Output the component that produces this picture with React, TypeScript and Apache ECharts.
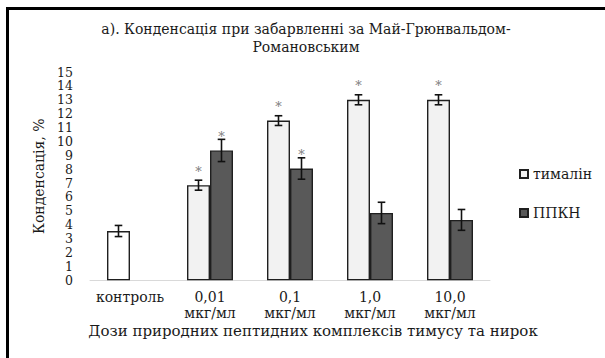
import React, { useEffect, useRef } from "react";
import * as echarts from "echarts";

// ---- data ----
const categories = ["контроль", "0,01\nмкг/мл", "0,1\nмкг/мл", "1,0\nмкг/мл", "10,0\nмкг/мл"];
const seriesNames = ["тималін", "ППКН"];
const timalinValues = [3.55, 6.85, 11.5, 13.0, 13.0];
const timalinErrors = [0.4, 0.36, 0.35, 0.36, 0.36];
const timalinSignificant = [false, true, true, true, true];
const ppknValues: (number | null)[] = [null, 9.35, 8.05, 4.85, 4.35];
const ppknErrors: (number | null)[] = [null, 0.8, 0.77, 0.77, 0.75];
const ppknSignificant = [false, true, true, false, false];
const yTicks = { min: 0, max: 15, interval: 1 };
const titleText = "а). Конденсація при забарвленні за Май-Грюнвальдом-\nРомановським";
const yAxisName = "Конденсація, %";
const xAxisName = "Дози природних пептидних комплексів тимусу та нирок";

const W = 605;
const H = 358;
const FONT = "DejaVu Serif";
const BAR_W = 23;
const INK = "#1a1a1a";

function errData(values: (number | null)[], errors: (number | null)[], sig: boolean[]) {
  const out: any[] = [];
  values.forEach((v, i) => {
    if (v == null) return;
    out.push([i, v, errors[i] ?? 0, sig[i] ? 1 : 0]);
  });
  return out;
}

function makeErrRender(offset: number, starGap: number) {
  return (params: any, api: any) => {
    const idx = api.value(0);
    const v = api.value(1);
    const e = api.value(2);
    const sig = api.value(3);
    const top = api.coord([idx, v + e]);
    const bot = api.coord([idx, v - e]);
    const x = top[0] + offset;
    const cap = 3.8;
    const st = { stroke: "#111", lineWidth: 1.6 };
    const children: any[] = [
      { type: "line", shape: { x1: x, y1: top[1], x2: x, y2: bot[1] }, style: st },
      { type: "line", shape: { x1: x - cap, y1: top[1], x2: x + cap, y2: top[1] }, style: st },
      { type: "line", shape: { x1: x - cap, y1: bot[1], x2: x + cap, y2: bot[1] }, style: st },
    ];
    if (sig) {
      children.push({
        type: "text",
        style: {
          text: "*",
          x,
          y: top[1] - starGap,
          textAlign: "center",
          textVerticalAlign: "middle",
          fontSize: 13,
          fontFamily: FONT,
          fill: "#808080",
        },
      });
    }
    return { type: "group", children };
  };
}

export default function App() {
  const ref = useRef<HTMLDivElement>(null);
  useEffect(() => {
    if (!ref.current) return;
    const chart = echarts.init(ref.current, null, { renderer: "svg" });
    const option: any = {
      animation: false,
      backgroundColor: "#ffffff",
      textStyle: { fontFamily: FONT, color: INK },
      grid: { left: 90, right: W - 490, top: 72, bottom: H - 280.3 },
      legend: {
        data: seriesNames,
        orient: "vertical",
        left: 519,
        top: 166,
        padding: 0,
        icon: "rect",
        itemWidth: 8,
        itemHeight: 8,
        itemGap: 23,
        textStyle: { fontFamily: FONT, fontSize: 14, color: INK, lineHeight: 16 },
      },
      xAxis: {
        type: "category",
        data: categories,
        axisTick: { show: false },
        axisLine: { lineStyle: { color: "#d9d9d9", width: 1 } },
        axisLabel: {
          interval: 0,
          margin: 9,
          fontSize: 14,
          lineHeight: 16,
          color: INK,
          fontFamily: FONT,
        },
      },
      yAxis: {
        type: "value",
        min: yTicks.min,
        max: yTicks.max,
        interval: yTicks.interval,
        name: yAxisName,
        nameLocation: "middle",
        nameGap: 42,
        nameTextStyle: { fontSize: 14, fontFamily: FONT, color: INK },
        axisLine: { show: false },
        axisTick: { show: false },
        splitLine: { show: false },
        axisLabel: { margin: 17, fontSize: 12.5, color: INK, fontFamily: FONT },
      },
      graphic: [
        {
          type: "line",
          shape: { x1: 6, y1: 8.5, x2: W, y2: 8.5 },
          style: { stroke: "#000", lineWidth: 3 },
        },
        {
          type: "line",
          shape: { x1: 7.5, y1: 7, x2: 7.5, y2: H },
          style: { stroke: "#000", lineWidth: 3 },
        },
        {
          type: "text",
          style: {
            text: titleText,
            x: 306,
            y: 20,
            textAlign: "center",
            textVerticalAlign: "top",
            fontSize: 14,
            lineHeight: 18,
            fontFamily: FONT,
            fill: INK,
          },
        },
        {
          type: "text",
          style: {
            text: xAxisName,
            x: 313,
            y: 331,
            textAlign: "center",
            textVerticalAlign: "middle",
            fontSize: 15,
            fontFamily: FONT,
            fill: INK,
          },
        },
      ],
      series: [
        {
          name: seriesNames[0],
          type: "bar",
          barWidth: BAR_W,
          barGap: "0%",
          data: timalinValues.map((v, i) => ({
            value: v,
            itemStyle: { color: i === 0 ? "#ffffff" : "#f2f2f2" },
          })),
          itemStyle: { color: "#f2f2f2", borderColor: "#1f1f1f", borderWidth: 1.4 },
        },
        {
          name: seriesNames[1],
          type: "bar",
          barWidth: BAR_W,
          barGap: "0%",
          data: ppknValues,
          itemStyle: { color: "#595959", borderColor: "#1f1f1f", borderWidth: 1.4 },
        },
        {
          name: "err1",
          type: "custom",
          z: 5,
          data: errData(timalinValues, timalinErrors, timalinSignificant),
          renderItem: makeErrRender(-BAR_W / 2, 9),
        },
        {
          name: "err2",
          type: "custom",
          z: 5,
          data: errData(ppknValues, ppknErrors, ppknSignificant),
          renderItem: makeErrRender(BAR_W / 2, 3),
        },
      ],
    };
    chart.setOption(option);
    return () => chart.dispose();
  }, []);
  return (
    <div style={{ position: "absolute", left: 0, top: 0, width: W, height: H, background: "#fff" }}>
      <div ref={ref} style={{ width: W, height: H }} />
    </div>
  );
}
